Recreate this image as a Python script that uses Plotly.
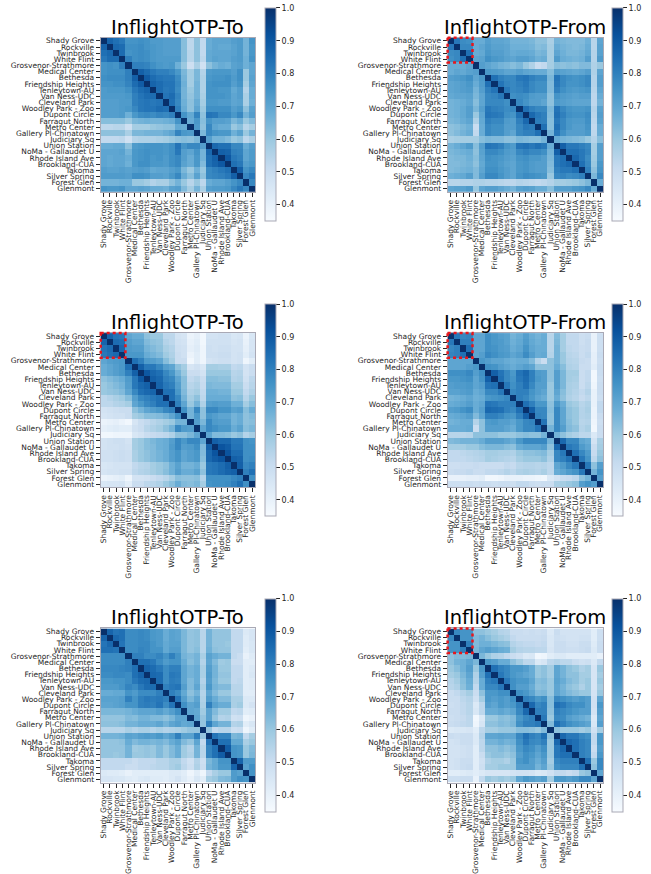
import plotly.graph_objects as go

stations = ["Shady Grove","Rockville","Twinbrook","White Flint","Grosvenor-Strathmore","Medical Center","Bethesda","Friendship Heights","Tenleytown-AU","Van Ness-UDC","Cleveland Park","Woodley Park - Zoo","Dupont Circle","Farragut North","Metro Center","Gallery Pl-Chinatown","Judiciary Sq","Union Station","NoMa - Gallaudet U","Rhode Island Ave","Brookland-CUA","Takoma","Silver Spring","Forest Glen","Glenmont"]
colorbar_ticks = [0.4,0.5,0.6,0.7,0.8,0.9,1.0]

# Upper triangles, in hundredths, row by row
top_to = [
[100,87,84,82,75,75,76,75,73,73,72,72,72,63,53,62,52,68,70,70,70,72,73,66,75],
[100,86,85,76,76,77,75,74,73,72,72,72,63,53,62,52,68,70,69,69,71,73,66,74],
[100,85,75,76,77,76,74,73,72,72,72,63,54,62,52,69,70,70,70,71,73,66,74],
[100,80,76,77,76,74,73,73,73,73,63,54,62,53,69,71,70,70,72,73,67,75],
[100,80,80,79,76,74,73,74,67,60,49,57,48,62,66,68,67,71,72,67,70],
[100,88,85,82,80,80,78,74,65,58,65,55,73,74,74,74,72,76,60,70],
[100,89,85,83,82,82,77,66,58,65,56,74,75,75,76,73,76,60,71],
[100,87,85,83,83,78,67,58,66,56,75,76,76,76,72,75,58,70],
[100,85,82,83,77,66,60,66,56,75,75,74,74,69,72,55,68],
[100,83,85,79,66,61,66,57,75,75,75,74,70,72,57,68],
[100,84,78,67,62,68,58,74,74,73,73,70,71,57,67],
[100,80,68,62,70,60,76,76,76,76,72,74,62,71],
[100,75,69,79,62,83,82,78,78,74,78,66,72],
[100,68,74,63,75,72,72,71,65,68,60,64],
[100,73,62,78,70,68,68,60,63,54,58],
[100,65,78,75,74,74,67,71,60,66],
[100,72,66,66,64,60,62,53,57],
[100,86,84,84,78,78,68,72],
[100,88,87,80,79,70,73],
[100,90,82,80,70,73],
[100,84,82,72,74],
[100,88,75,78],
[100,78,82],
[100,78],
[100],
]
top_from = [
[100,82,77,76,68,68,72,70,70,69,66,66,66,65,62,62,57,66,65,64,64,64,67,54,70],
[100,78,78,68,70,73,71,71,70,67,67,67,66,63,64,58,68,66,65,64,65,68,54,71],
[100,84,68,69,74,72,72,70,68,69,69,68,65,66,58,70,67,65,65,66,69,55,71],
[100,70,71,76,74,73,71,70,72,72,70,67,68,58,73,68,67,66,67,72,55,73],
[100,72,70,68,66,65,63,65,60,56,50,52,58,63,62,63,62,64,64,56,60],
[100,74,73,72,70,70,72,70,69,68,68,63,72,71,70,69,70,72,56,70],
[100,84,80,78,78,82,83,80,78,78,65,83,78,76,75,76,78,55,72],
[100,83,79,78,80,82,78,76,76,64,82,78,75,75,76,78,55,72],
[100,82,78,79,81,78,76,76,64,80,76,74,73,74,75,54,70],
[100,76,77,76,73,72,72,62,75,73,72,71,72,72,53,68],
[100,78,75,72,72,70,62,73,72,71,70,70,70,53,66],
[100,84,80,78,78,65,83,78,75,74,74,75,55,71],
[100,86,82,80,64,84,80,76,75,75,77,54,72],
[100,81,80,63,82,78,74,73,73,76,53,71],
[100,84,63,84,78,74,72,72,75,52,68],
[100,66,82,76,72,72,72,74,53,68],
[100,68,66,65,64,63,60,55,63],
[100,88,82,82,80,78,58,72],
[100,84,84,82,79,58,72],
[100,86,82,77,59,72],
[100,84,78,60,74],
[100,80,62,75],
[100,65,78],
[100,68],
[100],
]
mid_to = [
[100,87,83,82,70,68,68,62,60,60,53,53,47,46,39,41,37,47,47,48,48,45,46,39,45],
[100,85,84,72,70,70,64,62,61,55,53,48,47,40,42,37,48,48,48,48,46,47,40,46],
[100,86,73,72,72,66,64,62,57,55,49,48,41,43,38,49,48,49,49,47,47,41,46],
[100,74,74,74,68,66,64,59,56,50,48,39,42,38,49,49,50,50,47,48,42,47],
[100,84,80,73,72,70,63,58,50,50,37,42,38,47,48,49,49,47,48,38,42],
[100,88,82,82,78,72,70,62,58,46,48,45,58,58,57,57,52,53,47,50],
[100,90,86,84,78,74,66,60,50,50,47,60,60,60,60,54,55,47,50],
[100,88,86,80,78,70,63,52,54,50,63,63,62,62,55,56,48,53],
[100,87,82,80,72,63,54,56,51,65,64,64,64,58,58,50,54],
[100,84,84,74,64,56,58,52,67,67,66,66,60,60,52,56],
[100,84,78,66,58,62,53,68,68,68,68,62,63,54,60],
[100,80,70,60,66,56,72,73,72,72,67,67,58,63],
[100,76,66,78,62,78,78,75,75,71,72,63,68],
[100,66,73,62,74,72,70,70,66,68,62,64],
[100,72,65,78,73,72,72,66,68,62,63],
[100,70,78,76,74,74,68,71,63,65],
[100,70,64,64,63,60,62,55,58],
[100,88,86,86,82,82,76,75],
[100,91,89,83,83,76,76],
[100,91,85,85,76,76],
[100,88,87,76,77],
[100,88,78,80],
[100,80,84],
[100,76],
[100],
]
mid_from = [
[100,82,78,79,70,70,76,74,72,71,66,68,72,68,66,68,54,64,58,52,52,49,50,40,49],
[100,80,80,70,70,76,74,73,71,67,69,73,69,67,68,54,65,58,52,52,49,51,40,49],
[100,84,70,70,76,75,73,72,68,70,75,70,68,68,54,66,58,53,52,50,51,40,49],
[100,70,72,78,76,74,73,70,72,77,72,68,69,55,66,60,54,53,50,52,41,50],
[100,74,72,70,70,68,67,68,68,64,55,50,62,66,60,55,54,51,50,41,49],
[100,76,75,72,70,68,70,72,70,62,62,62,68,63,56,55,50,50,42,50],
[100,88,83,78,74,83,86,80,73,72,62,72,65,58,58,50,52,37,50],
[100,84,78,75,82,85,80,74,72,62,72,65,58,57,50,52,37,49],
[100,82,76,80,84,78,72,72,60,72,65,57,56,50,53,38,50],
[100,78,80,80,75,72,70,60,70,63,57,55,52,55,40,50],
[100,80,78,74,70,68,60,68,62,56,54,51,53,40,49],
[100,84,80,74,74,62,74,68,60,58,54,56,40,52],
[100,88,78,78,63,78,70,62,60,55,57,39,52],
[100,79,78,62,78,70,62,60,55,56,39,50],
[100,83,62,78,70,63,60,54,55,38,49],
[100,66,78,72,64,62,55,57,37,50],
[100,66,62,58,56,53,53,44,50],
[100,86,78,78,70,68,47,57],
[100,82,80,73,70,50,58],
[100,84,78,73,51,60],
[100,82,75,53,62],
[100,82,62,72],
[100,66,75],
[100,72],
[100],
]
bot_to = [
[100,87,83,84,77,77,78,77,74,73,68,71,70,65,61,62,54,66,61,61,61,52,52,44,46],
[100,86,84,77,77,78,77,74,73,68,71,70,65,61,62,54,66,61,61,61,52,52,43,46],
[100,83,77,77,78,78,75,73,69,71,71,65,61,62,54,66,61,61,60,52,52,43,45],
[100,77,77,79,78,75,75,69,72,72,65,61,63,54,67,62,61,61,52,52,42,45],
[100,80,80,77,77,79,75,80,75,66,64,66,57,71,68,66,66,52,50,40,43],
[100,84,84,82,77,73,75,75,68,63,66,55,70,64,59,60,50,50,42,42],
[100,87,85,82,77,80,80,70,66,68,57,72,66,60,60,52,52,42,44],
[100,86,85,77,82,81,70,66,68,57,73,66,61,61,52,52,42,45],
[100,85,77,81,80,70,64,68,55,72,65,60,60,52,53,42,43],
[100,80,82,83,72,64,70,57,74,66,64,64,54,54,42,43],
[100,80,77,69,62,66,55,70,64,60,60,54,54,42,42],
[100,83,72,65,70,56,73,68,64,64,57,57,44,44],
[100,76,70,72,57,80,71,68,68,57,59,44,47],
[100,70,69,59,71,64,59,59,52,53,42,43],
[100,70,61,71,61,55,56,48,49,38,40],
[100,61,80,70,66,66,55,56,42,45],
[100,61,52,54,54,49,50,38,42],
[100,83,79,79,65,66,52,58],
[100,84,84,69,69,57,60],
[100,89,75,74,60,64],
[100,75,74,60,65],
[100,87,73,73],
[100,71,76],
[100,75],
[100],
]
bot_from = [
[100,78,75,75,62,62,60,58,55,54,50,50,49,50,49,50,44,50,47,47,47,47,47,42,49],
[100,75,75,64,66,63,60,58,56,52,50,50,50,50,51,45,49,48,47,47,48,48,42,49],
[100,80,64,67,67,65,63,62,55,53,52,52,51,52,45,50,50,48,48,50,50,43,50],
[100,65,70,72,70,68,67,58,55,54,54,53,53,46,50,50,49,49,50,51,44,50],
[100,65,60,56,55,52,50,48,44,45,37,38,42,44,44,42,42,42,42,42,40],
[100,74,72,68,68,62,58,53,53,44,46,53,55,53,53,50,48,49,44,52],
[100,84,80,78,74,74,72,68,60,62,58,70,66,62,60,56,58,46,60],
[100,82,78,74,72,70,68,60,62,58,70,66,62,62,58,58,46,58],
[100,82,76,74,74,70,63,64,60,71,68,64,62,58,60,46,60],
[100,76,72,72,68,62,63,60,70,66,62,60,56,60,46,58],
[100,76,74,70,64,65,60,70,67,64,62,60,60,47,60],
[100,80,78,74,76,63,78,76,74,72,74,72,48,70],
[100,86,78,80,63,84,82,78,76,76,72,48,74],
[100,80,80,62,80,78,76,74,72,72,47,72],
[100,82,60,78,77,72,70,68,66,44,70],
[100,64,84,80,76,74,72,70,45,72],
[100,62,60,60,60,58,60,48,58],
[100,86,82,82,78,76,52,74],
[100,86,84,80,78,52,74],
[100,84,80,78,50,72],
[100,80,78,52,74],
[100,84,60,78],
[100,62,78],
[100,70],
[100],
]

blues = [[0,"#f7fbff"],[0.125,"#deebf7"],[0.25,"#c6dbef"],[0.375,"#9ecae1"],[0.5,"#6baed6"],
         [0.625,"#4292c6"],[0.75,"#2171b5"],[0.875,"#08519c"],[1,"#08306b"]]

W, H = 651, 874
n = len(stations)
idx = list(range(n))
box_cells = stations.index("White Flint") + 1

def full(tri):
    assert [len(r) for r in tri] == list(range(n, 0, -1)), [len(r) for r in tri]
    m = [[0]*n for _ in idx]
    for i, r in enumerate(tri):
        for k, v in enumerate(r):
            m[i][i+k] = m[i+k][i] = v/100
    return m

# matrix, title, left, right, top, bottom, bar left, bar top, bar bottom, highlighted
panels = [
    (top_to,   "InflightOTP-To",   100, 255, 37, 192, 265, 7, 221, False),
    (top_from, "InflightOTP-From", 448, 604, 37, 192, 613, 7, 221, True),
    (mid_to,   "InflightOTP-To",   100, 255, 334, 489, 265, 305, 518, True),
    (mid_from, "InflightOTP-From", 448, 604, 334, 489, 613, 305, 518, True),
    (bot_to,   "InflightOTP-To",   100, 255, 631, 786, 265, 601, 815, False),
    (bot_from, "InflightOTP-From", 448, 604, 631, 786, 613, 601, 815, True),
]

fig = go.Figure()
layout = dict(width=W, height=H, margin=dict(l=0, r=0, t=0, b=0), autosize=False,
              paper_bgcolor="white", plot_bgcolor="white", showlegend=False)
annotations, shapes = [], []
tick_font = dict(family="DejaVu Sans", size=7.5, color="#262626")
for p, (tri, title, l, r, t, b, bl, bt, bb, boxed) in enumerate(panels, start=1):
    sfx = "" if p == 1 else str(p)
    fig.add_trace(go.Heatmap(
        z=full(tri), x=idx, y=idx, colorscale=blues, zmin=0.35, zmax=1.0,
        xaxis="x"+sfx, yaxis="y"+sfx, xgap=0, ygap=0,
        colorbar=dict(x=bl/W, xanchor="left", xpad=0, ypad=0, y=1-bt/H, yanchor="top",
                      len=(bb-bt)/H, lenmode="fraction", thickness=11, thicknessmode="pixels",
                      tickvals=colorbar_ticks, tickformat=".1f", ticks="outside", ticklen=4, tickwidth=1,
                      tickcolor="#262626", tickfont=dict(family="DejaVu Sans", size=8, color="#262626"),
                      outlinecolor="#a9a9b5", outlinewidth=1)))
    common = dict(tickmode="array", tickvals=idx, ticktext=stations, ticks="outside", ticklen=4,
                  tickwidth=1, tickcolor="#262626", tickfont=tick_font, showgrid=False, zeroline=False,
                  showline=True, linecolor="#a9a9b5", linewidth=1, mirror=True)
    layout["xaxis"+sfx] = dict(domain=[l/W, r/W], anchor="y"+sfx, range=[-0.5, n-0.5], tickangle=-90, **common)
    layout["yaxis"+sfx] = dict(domain=[1-b/H, 1-t/H], anchor="x"+sfx, range=[n-0.5, -0.5], **common)
    annotations.append(dict(text=title, x=(l+r)/2/W, y=1-(t+2)/H, xref="paper", yref="paper",
                            xanchor="center", yanchor="bottom", showarrow=False, borderpad=0,
                            font=dict(family="DejaVu Sans", size=19.5, color="black")))
    if boxed:
        edge_x = (l + (r-l)*box_cells/n)/W
        edge_y = 1-(t + (b-t)*box_cells/n)/H
        shapes.append(dict(type="rect", xref="paper", yref="paper", x0=l/W, x1=edge_x, y0=1-t/H, y1=edge_y,
                           line=dict(color="#e8161b", width=2.5, dash="dot")))
layout["annotations"] = annotations
layout["shapes"] = shapes
fig.update_layout(**layout)
fig.write_html("out.html", config=dict(displayModeBar=False), post_script="document.body.style.margin='0';")
